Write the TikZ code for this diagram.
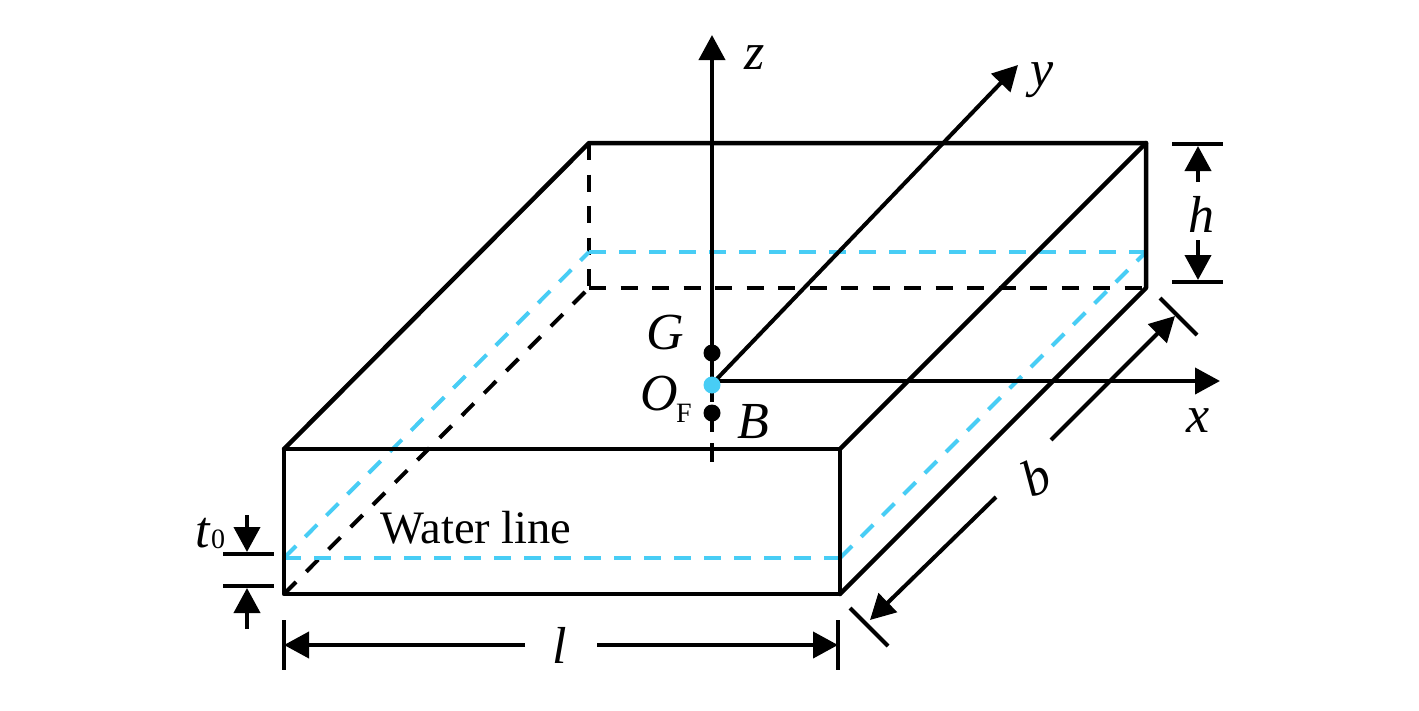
\documentclass[tikz,border=0pt]{standalone}
\usepackage{fontspec}
\setmainfont{Liberation Serif}
\usetikzlibrary{arrows.meta}
\tikzset{
  edge/.style={line width=4.5pt,line cap=round,line join=round},
  hidden/.style={line width=4pt,dash pattern=on 17pt off 14.5pt},
  waterblue/.style={line width=4pt,color=skyline,dash pattern=on 17pt off 13pt},
  dimline/.style={line width=4pt,-{Triangle[length=25pt,width=26pt]}},
  tick/.style={line width=4pt},
  lab/.style={inner sep=0pt,font=\fontsize{52}{52}\selectfont\itshape},
  dotmark/.style={circle,fill=black,inner sep=0pt,minimum size=17pt}
}
\definecolor{skyline}{RGB}{72,205,245}
\begin{document}
\begin{tikzpicture}[x=1pt,y=-1pt]
  \useasboundingbox (0,0) rectangle (1419,710);
  % box corners
  \coordinate (fta) at (284,449);
  \coordinate (ftb) at (840,449);
  \coordinate (fba) at (284,594);
  \coordinate (fbb) at (840,594);
  \coordinate (bta) at (589,143);
  \coordinate (btb) at (1146,143);
  \coordinate (bba) at (589,288);
  \coordinate (bbb) at (1146,288);
  % water line corners
  \coordinate (wfa) at (284,558);
  \coordinate (wfb) at (840,558);
  \coordinate (wba) at (589,252);
  \coordinate (wbb) at (1146,252);
  % hidden edges
  \draw[hidden] (bta) -- (bba);
  \draw[hidden] (bba) -- (bbb);
  \draw[hidden] (fba) -- (bba);
  % water line
  \draw[waterblue] (wfa) -- (wfb);
  \draw[waterblue] (wfb) -- (wbb);
  \draw[waterblue] (wba) -- (wbb);
  \draw[waterblue] (wfa) -- (wba);
  % visible edges
  \draw[edge] (fta) rectangle (fbb);
  \draw[edge] (fta) -- (bta) -- (btb) -- (bbb) -- (fbb);
  \draw[edge] (ftb) -- (btb);
  % axes
  \coordinate (o) at (712,384);
  \coordinate (zend) at (712,35);
  \coordinate (yend) at (1018,65);
  \coordinate (xstart) at (712,381);
  \coordinate (xend) at (1220,381);
  \coordinate (zlow) at (712,462);
  \draw[dimline] (o) -- (zend);
  \draw[dimline] (o) -- (yend);
  \draw[dimline] (xstart) -- (xend);
  \draw[line width=4pt,dash pattern=on 18pt off 3pt on 27pt off 11pt on 19pt off 10pt] (o) -- (zlow);
  \node[dotmark] (gdot) at (712,353) {};
  \node[dotmark] (bdot) at (712,413) {};
  \node[dotmark,fill=skyline] (odot) at (712,385) {};
  % axis and point labels
  \node[lab] (zlab) at (755,58) {z};
  \node[lab] (ylab) at (1042,80) {y};
  \node[lab] (xlab) at (1198,421) {x};
  \node[lab] (glab) at (665,333) {G};
  \node[lab] (olab) at (659,394) {O};
  \node[inner sep=0pt,font=\fontsize{28}{28}\selectfont] (flab) at (684,413) {F};
  \node[lab] (blab) at (753,422) {B};
  \node[inner sep=0pt,font=\fontsize{46.5}{46.5}\selectfont] (wlab) at (476,528) {Water line};
  % dimension l
  \coordinate (la) at (284,645);
  \coordinate (lb) at (838,645);
  \coordinate (lc) at (525,645);
  \coordinate (ld) at (597,645);
  \draw[tick] (284,620) -- (284,670);
  \draw[tick] (838,620) -- (838,670);
  \draw[dimline] (lc) -- (la);
  \draw[dimline] (ld) -- (lb);
  \node[lab] (llab) at (560,645) {l};
  % dimension b
  \coordinate (ba) at (870,620);
  \coordinate (bb) at (996,497);
  \coordinate (bc) at (1051,440);
  \coordinate (bd) at (1175,316);
  \draw[tick] (850,608) -- (888,646);
  \draw[tick] (1160,298) -- (1197,335);
  \draw[dimline] (bb) -- (ba);
  \draw[dimline] (bc) -- (bd);
  \node[lab,rotate=25] (blen) at (1036,477) {b};
  % dimension h
  \coordinate (ha) at (1198,146);
  \coordinate (hb) at (1198,280);
  \coordinate (hc) at (1198,182);
  \coordinate (hd) at (1198,240);
  \draw[tick] (1172,144) -- (1223,144);
  \draw[tick] (1172,282) -- (1223,282);
  \draw[dimline] (hc) -- (ha);
  \draw[dimline] (hd) -- (hb);
  \node[lab] (hlab) at (1201,214) {h};
  % dimension t0
  \coordinate (ta) at (247,552);
  \coordinate (tb) at (247,588);
  \coordinate (tc) at (247,515);
  \coordinate (td) at (247,629);
  \draw[tick] (223,554) -- (274,554);
  \draw[tick] (223,586) -- (274,586);
  \draw[dimline] (tc) -- (ta);
  \draw[dimline] (td) -- (tb);
  \node[lab] (tlab) at (203,533) {t};
  \node[inner sep=0pt,font=\fontsize{28}{28}\selectfont] (tsub) at (218,539) {0};
\end{tikzpicture}
\end{document}
